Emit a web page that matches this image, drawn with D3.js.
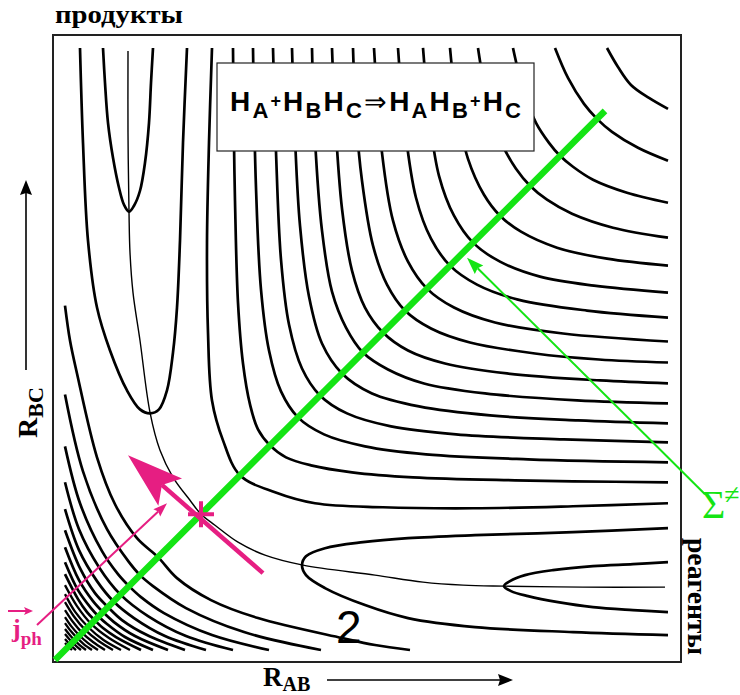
<!DOCTYPE html>
<html>
<head>
<meta charset="utf-8">
<script src="https://cdn.jsdelivr.net/npm/d3@7"></script>
<style>
    body { margin: 0; background: #fff; }
    svg { display: block; }
</style>
</head>
<body>
<div id="chart"></div>
<script>
// All contour points are in chart units along R_AB (first) and R_BC (second), 0..628.
// The surface is symmetric about the diagonal, so each symmetric contour is stored
// only from its left/top end to the diagonal and drawn together with its mirror image.

// products valley (upper left); the reactants valley is the mirror of these
const valleyContours = [
    [[50,615],[52,580],[55,540],[60,505],[66,475],[71,458],[76,451],[81,457],[87,472],[92,500],[96,540],[98,580],[100,615]],
    [[27,615],[30,520],[35,422],[44,355],[57,312],[74,272],[87,253],[97,249],[106,253],[114,272],[120,310],[124,355],[127,422],[130,520],[134,615]]
];

// contours running from the top edge round the barrier to the right edge (half)
const barrierContours = [
    [[159,615],[156,520],[154,420],[155,330],[159,262],[170,222],[187,187]],
    [[180,615],[181,520],[182,462],[185,360],[190,299],[197,258],[205,233],[217,217]],
    [[200,615],[203,475],[208,373],[216,312],[228,271],[245,245]],
    [[220,615],[223,511],[228,403],[236,338],[249,294],[267,267]],
    [[239,615],[242,525],[247,437],[256,366],[269,319],[289,289]],
    [[259,615],[262,524],[269,432],[279,371],[293,335],[310,310]],
    [[279,615],[282,547],[289,454],[299,392],[312,355],[330,330]],
    [[300,615],[303,546],[309,482],[320,417],[334,378],[352,352]],
    [[321,615],[329,510],[340,442],[355,401],[374,374]],
    [[345,615],[352,534],[363,465],[378,424],[397,397]],
    [[370,615],[377,541],[386,487],[401,447],[420,420]],
    [[397,615],[404,554],[415,504],[431,468],[447,447]],
    [[425,615],[435,560],[449,519],[463,494],[477,477]],
    [[460,615],[470,574],[483,540],[496,520],[507,507]],
    [[502,615],[515,585],[531,559],[544,544]],
    [[554,615],[565,596],[578,578]]
];

// repulsive wall contours near the origin (half)
const wallContours = [
    [[12,357],[17,322],[24,289],[44,205],[62,158],[84,124],[105,105]],
    [[12,268],[30,191],[54,133],[76,100],[87,87]],
    [[12,216],[27,159],[49,111],[65,88],[76,76]],
    [[12,180],[26,133],[46,95],[67.5,67.5]],
    [[12,153],[26,112],[44,81],[60.6,60.6]],
    [[12,132],[27,94],[42,69],[55,55]],
    [[12,115],[26,82],[40,61],[50,50]],
    [[12,100],[25,72],[38,54],[45.6,45.6]],
    [[12,88],[25,63],[34,50],[41.8,41.8]],
    [[12,77],[24,56],[38.2,38.2]],
    [[12,68],[22,50.5],[35.1,35.1]],
    [[12,60],[21,45.6],[32.2,32.2]],
    [[12,52],[20,40],[29.2,29.2]],
    [[12,45],[18.6,35.4],[26.5,26.5]],
    [[12,39],[18,30.7],[24.1,24.1]],
    [[12,33],[17,26.7],[21.6,21.6]],
    [[12,28],[15.5,23.8],[19.5,19.5]],
    [[12,23],[17.2,17.2]],
    [[12,19],[15.4,15.4]]
];

// minimum energy path from the products valley to the saddle point (half)
const reactionPath = [[75,612],[75,530],[76,451],[77,410],[80,370],[87,322],[97,250],[107,212],[120,185],[137,162],[148,148]];

// dividing surface and the two flux arrows
const dividingLine = [[2,2],[552,552]];
const fluxArrow = [[210,89],[75,207]];
const jArrow = [[-16,37],[114,159]];
const sigmaArrow = [[652,168],[414,405]];

const GREEN = "#14e414";
const PINK = "#e61e82";

class PesChart {
    constructor(parentElement) {
        this.parentElement = parentElement;
        this.initVis();
    }

    initVis() {
        let vis = this;

        vis.width = 740;
        vis.height = 695;
        vis.frame = { left: 53, top: 35, right: 681, bottom: 662 };

        vis.svg = d3.select(`#${vis.parentElement}`)
            .append("svg")
            .attr("width", vis.width)
            .attr("height", vis.height);

        vis.x = d3.scaleLinear().domain([0, 628]).range([vis.frame.left, vis.frame.right]);
        vis.y = d3.scaleLinear().domain([0, 628]).range([vis.frame.bottom, vis.frame.top]);

        vis.line = d3.line()
            .x(d => vis.x(d[0]))
            .y(d => vis.y(d[1]))
            .curve(d3.curveCatmullRom.alpha(0.5));

        vis.updateVis();
    }

    // half contour + its reflection in the diagonal
    mirrorJoin(half) {
        return half.concat(half.slice(0, -1).reverse().map(([a, b]) => [b, a]));
    }

    arrowHead(g, from, tip, len, halfW, notch, color) {
        let dx = tip[0] - from[0], dy = tip[1] - from[1];
        let n = Math.hypot(dx, dy);
        dx /= n; dy /= n;
        let bx = tip[0] - dx * len, by = tip[1] - dy * len;
        let pts = [
            tip,
            [bx - dy * halfW, by + dx * halfW],
            [tip[0] - dx * notch, tip[1] - dy * notch],
            [bx + dy * halfW, by - dx * halfW]
        ];
        g.append("polygon")
            .attr("points", pts.map(p => p.join(",")).join(" "))
            .attr("fill", color);
        return [tip[0] - dx * notch, tip[1] - dy * notch];
    }

    arrow(g, from, tip, opts) {
        let vis = this;
        let end = vis.arrowHead(g, from, tip, opts.len, opts.halfW, opts.notch, opts.color);
        g.append("line")
            .attr("x1", from[0]).attr("y1", from[1])
            .attr("x2", end[0]).attr("y2", end[1])
            .attr("stroke", opts.color)
            .attr("stroke-width", opts.width);
    }

    updateVis() {
        let vis = this;
        let px = d => [vis.x(d[0]), vis.y(d[1])];

        // frame
        vis.svg.append("rect")
            .attr("x", vis.frame.left)
            .attr("y", vis.frame.top)
            .attr("width", vis.frame.right - vis.frame.left)
            .attr("height", vis.frame.bottom - vis.frame.top)
            .attr("fill", "none")
            .attr("stroke", "#222")
            .attr("stroke-width", 2);

        let contours = vis.svg.append("g")
            .attr("fill", "none")
            .attr("stroke", "#000")
            .attr("stroke-width", 2.7);

        // valleys: products side as read, reactants side reflected
        valleyContours.forEach(c => {
            contours.append("path").attr("d", vis.line(c));
            contours.append("path").attr("d", vis.line(c.map(([a, b]) => [b, a])));
        });

        barrierContours.forEach(c => contours.append("path").attr("d", vis.line(vis.mirrorJoin(c))));

        // the innermost wall arcs are drawn a touch thinner so they stay apart
        wallContours.forEach((c, i) => contours.append("path")
            .attr("d", vis.line(vis.mirrorJoin(c)))
            .attr("stroke-width", i < 9 ? 2.7 : 2.3));

        // minimum energy path (thin)
        vis.svg.append("path")
            .attr("d", vis.line(vis.mirrorJoin(reactionPath)))
            .attr("fill", "none")
            .attr("stroke", "#000")
            .attr("stroke-width", 1.4);

        // dividing surface
        vis.svg.append("line")
            .attr("x1", vis.x(dividingLine[0][0])).attr("y1", vis.y(dividingLine[0][1]))
            .attr("x2", vis.x(dividingLine[1][0])).attr("y2", vis.y(dividingLine[1][1]))
            .attr("stroke", GREEN)
            .attr("stroke-width", 6.5);

        // reaction box
        vis.svg.append("rect")
            .attr("x", 217).attr("y", 63)
            .attr("width", 317).attr("height", 88)
            .attr("fill", "#fff")
            .attr("stroke", "#222")
            .attr("stroke-width", 1.2);

        let eq = vis.svg.append("text")
            .attr("x", 230).attr("y", 111)
            .attr("font-family", "Liberation Sans, Arial, sans-serif")
            .attr("font-weight", "bold")
            .attr("fill", "#000")
            .attr("textLength", 291)
            .attr("lengthAdjust", "spacing");
        let parts = [
            ["H", 28, 0], ["A", 22, 7], ["+", 18, -4], ["H", 28, 0], ["B", 22, 7], ["H", 28, 0], ["C", 22, 7],
            ["\u21D2", 27, 0], ["H", 28, 0], ["A", 22, 7], ["H", 28, 0], ["B", 22, 7], ["+", 18, -4], ["H", 28, 0], ["C", 22, 7]
        ];
        let prev = 0;
        parts.forEach(([t, s, o]) => {
            eq.append("tspan")
                .attr("font-size", s)
                .attr("font-weight", t === "\u21D2" ? "normal" : "bold")
                .attr("dy", o - prev)
                .text(t);
            prev = o;
        });

        // flux arrow across the saddle and the saddle mark
        let ann = vis.svg.append("g");
        vis.arrow(ann, px(fluxArrow[0]), px(fluxArrow[1]), { len: 56, halfW: 18, notch: 45, color: PINK, width: 4.5 });

        let s = px(reactionPath[reactionPath.length - 1]);
        ann.append("path")
            .attr("d", `M${s[0] - 13},${s[1]}H${s[0] + 13}M${s[0]},${s[1] - 13}V${s[1] + 13}`)
            .attr("stroke", PINK)
            .attr("stroke-width", 4);

        vis.arrow(ann, px(jArrow[0]), px(jArrow[1]), { len: 14, halfW: 5, notch: 12, color: PINK, width: 2 });
        vis.arrow(ann, px(sigmaArrow[0]), px(sigmaArrow[1]), { len: 17, halfW: 6, notch: 15, color: GREEN, width: 2 });

        // axis arrows
        vis.arrow(ann, [327, 680], [513, 680], { len: 15, halfW: 6, notch: 13, color: "#000", width: 1.6 });
        vis.arrow(ann, [26, 370], [26, 180], { len: 15, halfW: 6, notch: 13, color: "#000", width: 1.6 });

        // labels
        let serif = "Liberation Serif, Times New Roman, serif";

        vis.svg.append("text")
            .attr("x", 55).attr("y", 23)
            .attr("font-family", serif).attr("font-weight", "bold").attr("font-size", 26)
            .attr("textLength", 128).attr("lengthAdjust", "spacingAndGlyphs")
            .text("продукты");

        vis.svg.append("text")
            .attr("transform", "translate(688,538) rotate(90)")
            .attr("font-family", serif).attr("font-weight", "bold").attr("font-size", 27)
            .attr("textLength", 117).attr("lengthAdjust", "spacingAndGlyphs")
            .text("реагенты");

        let rab = vis.svg.append("text")
            .attr("x", 263).attr("y", 686)
            .attr("font-family", serif).attr("font-weight", "bold").attr("font-size", 27);
        rab.append("tspan").text("R");
        rab.append("tspan").attr("font-size", 20).attr("dy", 5).text("AB");

        let rbc = vis.svg.append("text")
            .attr("transform", "translate(37,438) rotate(-90)")
            .attr("font-family", serif).attr("font-weight", "bold").attr("font-size", 28);
        rbc.append("tspan").text("R");
        rbc.append("tspan").attr("font-size", 22).attr("dy", 6).text("BC");

        let jph = vis.svg.append("text")
            .attr("x", 12).attr("y", 637)
            .attr("font-family", serif).attr("font-weight", "bold").attr("font-size", 26)
            .attr("fill", PINK);
        jph.append("tspan").text("j");
        jph.append("tspan").attr("font-size", 19).attr("dy", 8).text("ph");
        vis.arrow(ann, [8, 611], [33, 611], { len: 9, halfW: 4, notch: 7, color: PINK, width: 2 });

        vis.svg.append("text")
            .attr("x", 336).attr("y", 643)
            .attr("font-family", "Liberation Sans, Arial, sans-serif").attr("font-size", 46)
            .text("2");

        let sig = vis.svg.append("text")
            .attr("x", 702).attr("y", 518)
            .attr("font-family", serif).attr("font-size", 40)
            .attr("fill", GREEN);
        sig.append("tspan").text("\u03A3");
        sig.append("tspan").attr("font-size", 28).attr("dy", -14).attr("dx", -1).text("\u2260");
    }
}

new PesChart("chart");
</script>
</body>
</html>
